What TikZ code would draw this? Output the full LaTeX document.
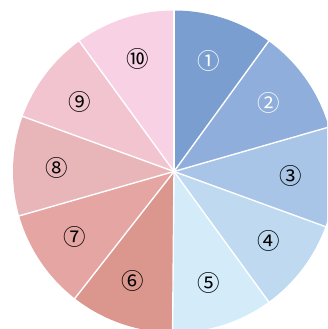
\documentclass[tikz,border=0pt]{standalone}
\usepackage{fontspec}
\newfontfamily\cjk{Noto Sans CJK JP}
\definecolor{c1}{HTML}{7A9ECF}
\definecolor{c2}{HTML}{8FAEDB}
\definecolor{c3}{HTML}{A8C4E6}
\definecolor{c4}{HTML}{BED9F0}
\definecolor{c5}{HTML}{D4EBF9}
\definecolor{c6}{HTML}{DB968E}
\definecolor{c7}{HTML}{E4A5A3}
\definecolor{c8}{HTML}{E8B6B9}
\definecolor{c9}{HTML}{F1C4D0}
\definecolor{c10}{HTML}{F8D2E4}
\tikzset{
  sep/.style={draw=white, line width=1.4pt},
  lbl/.style={font=\cjk\fontsize{22.5}{22.5}\selectfont, inner sep=0pt}
}
\begin{document}
\begin{tikzpicture}[x=1pt,y=1pt]
\useasboundingbox (0,0) rectangle (327,329);
\fill[white] (0,0) rectangle (327,329);
\clip (0,0) rectangle (327,329);
\coordinate (O) at (174,157.5);
\foreach \c/\aa/\ab in {c1/90/54, c2/54/16, c3/16/-20, c4/-20/-54, c5/-54/-90.5,
  c6/-90.5/-128, c7/-128/-164, c8/-164/-200, c9/-200/-234, c10/-234/-270}{
  \fill[\c] (O) -- ++(\aa:161) arc[start angle=\aa, end angle=\ab, radius=161] -- cycle;
}
\foreach \a in {90,54,16,-20,-54,-90.5,-128,-164,-200,-234}{
  \draw[sep] (O) -- ++(\a:170);
}
\node[lbl, text=white] (l1) at (209,268) {①};
\node[lbl, text=white] (l2) at (269,226) {②};
\node[lbl] (l3) at (291,153) {③};
\node[lbl] (l4) at (269,88) {④};
\node[lbl] (l5) at (209,46) {⑤};
\node[lbl] (l6) at (133,48) {⑥};
\node[lbl] (l7) at (75,92) {⑦};
\node[lbl] (l8) at (57,161) {⑧};
\node[lbl] (l9) at (80,227) {⑨};
\node[lbl] (l10) at (138,270) {⑩};
\end{tikzpicture}
\end{document}
